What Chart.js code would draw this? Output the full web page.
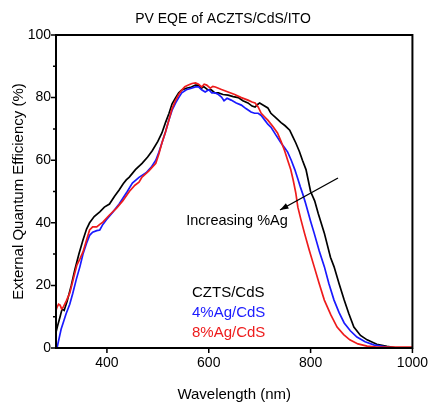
<!DOCTYPE html>
<html>
<head>
<meta charset="utf-8">
<script src="https://cdn.jsdelivr.net/npm/chart.js@4/dist/chart.umd.min.js"></script>
<style>
  html, body { margin: 0; padding: 0; background: #fff; }
  #wrap { width: 435px; height: 408px; }
</style>
</head>
<body>
<div id="wrap"><canvas id="eqeChart" width="435" height="408"></canvas></div>
<script>
// --- Data ---
const xTicks = [400, 600, 800, 1000];
const yTicks = [0, 20, 40, 60, 80, 100];
const yMinorTicks = [10, 30, 50, 70, 90];

const seriesNames = ['CZTS/CdS', '4%Ag/CdS', '8%Ag/CdS'];
const seriesColors = ['#000000', '#1a1aff', '#ee1c1c'];

// CZTS/CdS (black)
const czWl = [300, 303, 308, 312, 316, 322, 330, 337, 345, 353, 360, 366, 375, 386, 395, 405, 415, 424, 432, 438,
  444, 456, 469, 480, 489, 500, 508, 515, 522, 528, 535, 541, 547, 556, 566, 574, 580, 586, 590, 599,
  605, 612, 619, 628, 638, 648, 658, 667, 677, 685, 691, 696, 700, 708, 716, 722, 732, 742, 750, 759,
  765, 771, 778, 784, 791, 800, 808, 815, 827, 839, 846, 856, 866, 875, 885, 898, 911, 930, 950, 965];
const czEqe = [5, 7, 10, 12.5, 12, 15, 20, 25, 30, 34.5, 38, 40, 42, 43.5, 45, 46, 48.5, 50.5, 52.5, 53.7,
  54.6, 57, 59, 61, 63, 66, 68.7, 72, 75, 78, 80, 81.5, 82.4, 83, 83.4, 84, 84, 83, 83.5, 82.4,
  82.5, 81.5, 81.5, 81, 80.8, 80.3, 80, 79, 78.3, 77.3, 77, 77.8, 78.3, 77.5, 76.7, 75, 73.5, 72, 71, 69.6,
  67.5, 65.5, 62.8, 60, 57, 50, 47, 43, 36.7, 29, 26, 20.5, 15.3, 11, 6.7, 4, 2.6, 1.2, 0.5, 0.1];

// 4%Ag/CdS (blue)
const ag4Wl = [300, 302, 306, 310, 314, 320, 327, 333, 340, 347, 353, 360, 366, 372, 380, 386, 392, 399, 412, 424,
  440, 450, 463, 477, 488, 496, 502, 508, 515, 522, 528, 535, 541, 547, 556, 566, 574, 580, 586, 593,
  600, 606, 613, 619, 625, 630, 636, 644, 654, 664, 673, 683, 690, 697, 703, 710, 716, 722, 732, 742,
  749, 755, 762, 769, 775, 780, 785, 790, 794, 800, 807, 817, 827, 836, 846, 856, 866, 878, 891, 907,
  924, 950, 965];
const ag4Eqe = [0, 0, 3, 6, 8, 11, 14, 17.5, 22, 26, 30, 33.5, 36, 37, 37.5, 37.7, 39.5, 41, 43.5, 46,
  50, 52.7, 54.5, 56, 58, 60, 62.5, 65.5, 69, 73, 76, 78.3, 80, 81.5, 82.5, 83, 83.4, 83.4, 82.5, 81.8,
  82.5, 81.5, 81.5, 81, 80.2, 79, 79.8, 79.2, 78.3, 77.6, 76.5, 75.4, 75, 75, 74.3, 72.8, 71.5, 70.6, 68, 65.5,
  64, 62.6, 60, 57, 54, 51.4, 49, 46.3, 44, 40.5, 36.7, 31, 26, 20.5, 15.3, 11.3, 8, 5.5, 3.5, 2,
  1, 0.3, 0];

// 8%Ag/CdS (red)
const ag8Wl = [300, 302, 305, 308, 311, 314, 320, 327, 334, 341, 347, 353, 360, 366, 372, 380, 386, 392, 405, 419,
  431, 444, 455, 463, 469, 482, 496, 502, 508, 515, 522, 528, 535, 541, 547, 553, 560, 567, 574, 580,
  586, 591, 596, 603, 608, 613, 625, 638, 651, 664, 677, 685, 691, 697, 703, 710, 716, 726, 735, 742,
  749, 755, 761, 766, 771, 775, 781, 788, 797, 807, 817, 827, 840, 852, 865, 877, 893, 911, 930, 960, 1000];
const ag8Eqe = [12, 13, 14, 13.7, 12.5, 13, 15, 17.5, 22, 26.5, 28.5, 30.7, 34.5, 37.7, 38.7, 38.7, 39.5, 40.2, 42.5, 44.7,
  47, 50, 52, 53, 54.6, 56.5, 59, 62, 65.5, 69, 73, 76.5, 79.2, 81, 82.4, 83.5, 84, 84.5, 84.7, 84.3,
  83.4, 84.3, 84, 83, 83.6, 83.4, 82.6, 81.8, 81, 80, 79.2, 78.6, 78.3, 77, 75, 73.8, 72.8, 70.8, 68.7, 66,
  63, 60, 57, 53.5, 49.5, 45, 41, 36.7, 31.5, 26, 20.5, 15.3, 10.5, 6.7, 4.3, 2.6, 1.3, 0.6, 0.3, 0.3, 0.3];

const seriesWl = [czWl, ag4Wl, ag8Wl];
const seriesEqe = [czEqe, ag4Eqe, ag8Eqe];

const FONT = "'Liberation Sans', Arial, sans-serif";

// frame, tick marks and the text annotations
const extrasPlugin = {
  id: 'extras',
  afterDraw(chart) {
    const { ctx, chartArea: a, scales: { x, y } } = chart;
    ctx.save();
    ctx.strokeStyle = '#000';
    ctx.lineWidth = 2;
    ctx.strokeRect(a.left, a.top, a.right - a.left, a.bottom - a.top);

    ctx.lineWidth = 1.5;
    ctx.beginPath();
    yTicks.forEach(v => {
      const py = y.getPixelForValue(v);
      ctx.moveTo(a.left, py); ctx.lineTo(a.left - 5, py);
    });
    yMinorTicks.forEach(v => {
      const py = y.getPixelForValue(v);
      ctx.moveTo(a.left, py); ctx.lineTo(a.left - 3, py);
    });
    xTicks.forEach(v => {
      const px = x.getPixelForValue(v);
      ctx.moveTo(px, a.bottom); ctx.lineTo(px, a.bottom + 5);
    });
    ctx.stroke();

    // title
    ctx.fillStyle = '#000';
    ctx.font = '14px ' + FONT;
    ctx.textAlign = 'center';
    ctx.textBaseline = 'middle';
    ctx.fillText('PV EQE of ACZTS/CdS/ITO', 223, 19);

    // legend as coloured text
    ctx.font = '15px ' + FONT;
    ctx.textAlign = 'left';
    seriesNames.forEach((name, i) => {
      ctx.fillStyle = seriesColors[i];
      ctx.fillText(name, 192, 293 + i * 20);
    });

    // annotation + arrow
    ctx.fillStyle = '#000';
    ctx.font = '14.5px ' + FONT;
    ctx.textAlign = 'center';
    ctx.fillText('Increasing %Ag', 237, 221);

    const x0 = 338, y0 = 178, x1 = 280, y1 = 210;
    ctx.lineWidth = 1.3;
    ctx.beginPath();
    ctx.moveTo(x0, y0); ctx.lineTo(x1, y1);
    ctx.stroke();
    const ang = Math.atan2(y1 - y0, x1 - x0);
    ctx.beginPath();
    ctx.moveTo(x1, y1);
    ctx.lineTo(x1 - 9 * Math.cos(ang - 0.35), y1 - 9 * Math.sin(ang - 0.35));
    ctx.lineTo(x1 - 9 * Math.cos(ang + 0.35), y1 - 9 * Math.sin(ang + 0.35));
    ctx.closePath();
    ctx.fill();
    ctx.restore();
  }
};

new Chart(document.getElementById('eqeChart').getContext('2d'), {
  type: 'line',
  data: {
    datasets: seriesNames.map((name, i) => ({
      label: name,
      data: seriesWl[i].map((w, j) => ({ x: w, y: seriesEqe[i][j] })),
      borderColor: seriesColors[i],
      borderWidth: 1.7,
      pointRadius: 0,
      tension: 0,
      fill: false
    })).reverse()
  },
  options: {
    responsive: false,
    animation: false,
    layout: { padding: { top: 35, right: 19, left: 0, bottom: 0 } },
    plugins: {
      legend: { display: false },
      tooltip: { enabled: false },
      title: { display: false }
    },
    scales: {
      x: {
        type: 'linear',
        min: 300,
        max: 1000,
        afterBuildTicks: s => { s.ticks = xTicks.map(v => ({ value: v })); },
        afterFit: s => { s.height = 60; },
        grid: { display: false, drawTicks: false },
        border: { display: false },
        ticks: { padding: 7, color: '#000', font: { family: FONT, size: 14 }, maxRotation: 0, callback: v => String(v) },
        title: { display: true, text: 'Wavelength (nm)', color: '#000', font: { family: FONT, size: 15 }, padding: { top: 0, bottom: 4 } }
      },
      y: {
        min: 0,
        max: 100,
        afterBuildTicks: s => { s.ticks = yTicks.map(v => ({ value: v })); },
        afterFit: s => { s.width = 56; },
        grid: { display: false, drawTicks: false },
        border: { display: false },
        ticks: { padding: 5, color: '#000', font: { family: FONT, size: 14 } },
        title: { display: true, text: 'External Quantum Efficiency (%)', color: '#000', font: { family: FONT, size: 15 }, padding: { top: 10, bottom: 0 } }
      }
    }
  },
  plugins: [extrasPlugin]
});
</script>
</body>
</html>
